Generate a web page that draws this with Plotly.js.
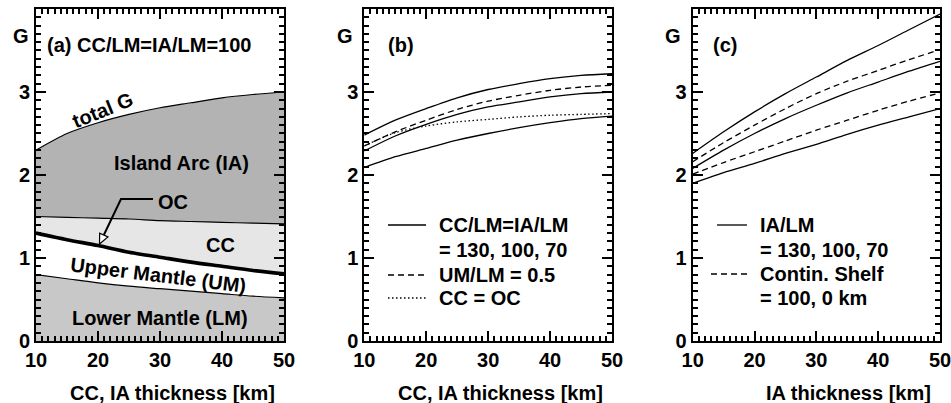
<!DOCTYPE html>
<html><head><meta charset="utf-8">
<script src="https://cdn.plot.ly/plotly-3.0.1.min.js"></script>
<style>html,body{margin:0;padding:0;background:#fff}#chart{width:951px;height:403px}</style>
</head><body><div id="chart"></div>
<script>
// crust / island-arc thickness [km]
const thickness = [10, 15, 20, 25, 30, 35, 40, 45, 50];

// (a) CC/LM = IA/LM = 100 : cumulative layer tops
const aLowerMantleTop = [0.80, 0.75, 0.70, 0.66, 0.63, 0.60, 0.57, 0.54, 0.52];
const aOceanicCrust   = [1.30, 1.22, 1.15, 1.07, 1.01, 0.95, 0.90, 0.85, 0.81];
const aIslandArcBase  = [1.50, 1.49, 1.48, 1.47, 1.45, 1.44, 1.43, 1.42, 1.41];
const aTotalG         = [2.30, 2.50, 2.63, 2.73, 2.81, 2.87, 2.93, 2.97, 3.00];

// (b)
const bRatio130 = [2.48, 2.66, 2.80, 2.93, 3.03, 3.10, 3.16, 3.20, 3.22];
const bRatio100 = [2.29, 2.47, 2.61, 2.73, 2.82, 2.88, 2.94, 2.98, 3.00];
const bRatio70  = [2.09, 2.22, 2.32, 2.42, 2.50, 2.57, 2.63, 2.68, 2.71];
const bUmLm05   = [2.35, 2.52, 2.66, 2.79, 2.89, 2.96, 3.02, 3.06, 3.08];
const bCcEqOc   = [2.35, 2.51, 2.59, 2.64, 2.67, 2.70, 2.72, 2.73, 2.74];

// (c)
const cRatio130   = [2.26, 2.52, 2.76, 2.98, 3.18, 3.38, 3.56, 3.75, 3.94];
const cShelfUpper = [2.16, 2.39, 2.60, 2.80, 2.98, 3.13, 3.26, 3.39, 3.51];
const cRatio100   = [2.08, 2.30, 2.50, 2.68, 2.84, 2.99, 3.12, 3.25, 3.37];
const cShelfLower = [2.01, 2.15, 2.28, 2.41, 2.54, 2.66, 2.78, 2.89, 2.99];
const cRatio70    = [1.90, 2.03, 2.14, 2.26, 2.37, 2.49, 2.60, 2.70, 2.80];

// legend texts
const legendB = ['CC/LM=IA/LM', '= 130, 100, 70', 'UM/LM = 0.5', 'CC = OC'];
const legendC = ['IA/LM', '= 130, 100, 70', 'Contin. Shelf', '= 100, 0 km'];

const FONT = 'Liberation Sans, Arial, Helvetica, sans-serif';
const BLK = '#000000';
const DASH = '6px,4px';
const DOT = '1.5px,2.5px';

function ln(w, dash) { return {color: BLK, width: w, dash: dash || 'solid', shape: 'spline', smoothing: 0.8}; }
function tr(y, xa, ya, opts) {
  return Object.assign({x: thickness, y: y, xaxis: xa, yaxis: ya, mode: 'lines', showlegend: false}, opts);
}

const traces = [
  tr(aLowerMantleTop, 'x', 'y', {name: 'Lower Mantle (LM)', line: ln(1.2), fill: 'tozeroy', fillcolor: '#c8c8c8'}),
  tr(aOceanicCrust, 'x', 'y', {name: 'Upper Mantle (UM)', line: {width: 0, shape: 'spline', smoothing: 0.8}, fill: 'tonexty', fillcolor: '#ffffff'}),
  tr(aIslandArcBase, 'x', 'y', {name: 'CC', line: ln(1.2), fill: 'tonexty', fillcolor: '#e6e6e6'}),
  tr(aTotalG, 'x', 'y', {name: 'Island Arc (IA)', line: ln(1.2), fill: 'tonexty', fillcolor: '#b3b3b3'}),
  tr(aOceanicCrust, 'x', 'y', {name: 'OC', line: ln(3.6)}),

  tr(bRatio130, 'x2', 'y2', {name: 'CC/LM=IA/LM = 130', line: ln(1.3)}),
  tr(bRatio100, 'x2', 'y2', {name: 'CC/LM=IA/LM = 100', line: ln(1.3)}),
  tr(bRatio70, 'x2', 'y2', {name: 'CC/LM=IA/LM = 70', line: ln(1.3)}),
  tr(bUmLm05, 'x2', 'y2', {name: 'UM/LM = 0.5', line: ln(1.3, DASH)}),
  tr(bCcEqOc, 'x2', 'y2', {name: 'CC = OC', line: ln(1.3, DOT)}),

  tr(cRatio130, 'x3', 'y3', {name: 'IA/LM = 130', line: ln(1.3)}),
  tr(cRatio100, 'x3', 'y3', {name: 'IA/LM = 100', line: ln(1.3)}),
  tr(cRatio70, 'x3', 'y3', {name: 'IA/LM = 70', line: ln(1.3)}),
  tr(cShelfUpper, 'x3', 'y3', {name: 'Contin. Shelf (upper)', line: ln(1.3, DASH)}),
  tr(cShelfLower, 'x3', 'y3', {name: 'Contin. Shelf (lower)', line: ln(1.3, DASH)})
];

function ax(extra) {
  return Object.assign({ticks: 'inside', ticklen: 10, tickwidth: 2, tickcolor: BLK,
    showline: true, linewidth: 2, linecolor: BLK, mirror: 'ticks', showgrid: false, zeroline: false,
    tickfont: {family: FONT, size: 20, color: BLK, weight: 'bold'}}, extra);
}
function xAxis(domain, anchor, extra) {
  return ax(Object.assign({domain: domain, anchor: anchor, range: [10, 50], dtick: 10,
    minor: {ticks: 'inside', ticklen: 5, dtick: 1}}, extra || {}));
}
function yAxis(anchor, extra) {
  return ax(Object.assign({range: [0, 3.9999], anchor: anchor, dtick: 1,
    minor: {ticks: 'inside', ticklen: 5, dtick: 0.1}}, extra || {}));
}

function ann(text, xref, yref, x, y, extra) {
  return Object.assign({text: text, xref: xref, yref: yref, x: x, y: y, showarrow: false,
    font: {family: FONT, size: 20, color: BLK, weight: 'bold'},
    xanchor: 'center', yanchor: 'middle'}, extra || {});
}
// pixel helpers: plot area spans x 8..943, y 9..341
const ML = 8, MR = 8, PH = 332;
const PW = 951 - ML - MR;
const PX = (px) => (px - ML) / PW;
const PY = (py) => (341 - py) / PH;

const annotations = [
  ann('G', 'paper', 'paper', PX(21), PY(35.5)),
  ann('G', 'paper', 'paper', PX(345), PY(35.5)),
  ann('G', 'paper', 'paper', PX(673), PY(35.5)),
  ann('(a) CC/LM=IA/LM=100', 'x', 'y', 11.4, 3.566, {xanchor: 'left'}),
  ann('(b)', 'x2', 'y2', 13.5, 3.566, {xanchor: 'left'}),
  ann('(c)', 'x3', 'y3', 13.0, 3.566, {xanchor: 'left'}),
  ann('total G', 'x', 'y', 20.8, 2.78, {textangle: -22}),
  ann('Island Arc (IA)', 'x', 'y', 33.4, 2.145),
  ann('OC', 'x', 'y', 29.3, 1.675, {xanchor: 'left'}),
  ann('CC', 'x', 'y', 39.7, 1.157),
  ann('Upper Mantle (UM)', 'x', 'y', 29.7, 0.80, {textangle: 7}),
  ann('Lower Mantle (LM)', 'x', 'y', 30.0, 0.277),
  ann('CC, IA thickness [km]', 'paper', 'paper', PX(277), PY(393), {xanchor: 'right'}),
  ann('CC, IA thickness [km]', 'paper', 'paper', PX(605), PY(393), {xanchor: 'right'}),
  ann('IA thickness [km]', 'paper', 'paper', PX(933), PY(393), {xanchor: 'right'})
];

const rowsB = [225, 250, 275, 298];
const rowsC = [225, 250, 274, 298];
legendB.forEach((t, i) => annotations.push(ann(t, 'paper', 'paper', PX(437), PY(rowsB[i]), {xanchor: 'left'})));
legendC.forEach((t, i) => annotations.push(ann(t, 'paper', 'paper', PX(758), PY(rowsC[i]), {xanchor: 'left'})));

function sample(x0, x1, py, dash) {
  return {type: 'line', xref: 'paper', yref: 'paper', x0: PX(x0), x1: PX(x1), y0: PY(py), y1: PY(py),
    line: {color: BLK, width: 1.3, dash: dash || 'solid'}};
}

const shapes = [
  {type: 'path', xref: 'x', yref: 'y', path: 'M 28.87,1.711 L 23.71,1.711 L 20.94,1.277',
   line: {color: BLK, width: 2}},
  {type: 'path', xref: 'x', yref: 'y', path: 'M 20.24,1.169 L 21.60,1.254 L 20.27,1.300 Z',
   line: {color: BLK, width: 1.2}, fillcolor: '#ffffff'},
  sample(388, 426, rowsB[0]),
  sample(388, 426, rowsB[2], DASH),
  sample(388, 426, rowsB[3], DOT),
  sample(717, 747, rowsC[0]),
  sample(711, 747, rowsC[2], DASH)
];

const layout = {
  width: 951, height: 403,
  margin: {l: ML, r: MR, t: 9, b: 62},
  showlegend: false,
  xaxis: xAxis([PX(36), PX(284)], 'y'),
  yaxis: yAxis('x'),
  xaxis2: xAxis([PX(364.3), PX(612)], 'y2'),
  yaxis2: yAxis('x2'),
  xaxis3: xAxis([PX(692.7), PX(940)], 'y3', {ticklabeloverflow: 'allow'}),
  yaxis3: yAxis('x3'),
  annotations: annotations,
  shapes: shapes
};

Plotly.newPlot('chart', traces, layout, {displayModeBar: false, staticPlot: true});
</script>
</body></html>
